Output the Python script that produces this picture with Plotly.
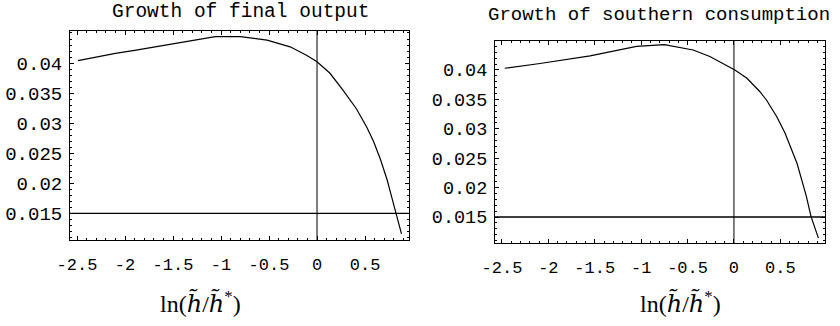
import plotly.graph_objects as go

# Growth of final output vs ln(h~/h~*)
x_output = [-2.49, -2.30, -2.10, -1.90, -1.58, -1.24, -1.06, -0.80, -0.52, -0.28,
            -0.11, 0.00, 0.135, 0.27, 0.41, 0.52, 0.59, 0.66, 0.73, 0.78, 0.83, 0.88]
y_output = [0.0404, 0.0410, 0.0416, 0.0421, 0.0430, 0.0440, 0.0444, 0.0444, 0.0438, 0.0427,
            0.0413, 0.0402, 0.0383, 0.0355, 0.0324, 0.0293, 0.0269, 0.0240, 0.0206, 0.0176,
            0.0148, 0.0116]

# Growth of southern consumption vs ln(h~/h~*)
x_cons = [-2.47, -2.09, -1.55, -1.05, -0.75, -0.44, -0.26, -0.115, 0.01, 0.14, 0.28,
          0.35, 0.46, 0.55, 0.62, 0.68, 0.73, 0.78, 0.83, 0.87, 0.91]
y_cons = [0.0403, 0.0411, 0.0424, 0.0440, 0.0443, 0.0434, 0.0423, 0.0411, 0.0400, 0.0386,
          0.0363, 0.0349, 0.0321, 0.0293, 0.0266, 0.0241, 0.0213, 0.0185, 0.0151, 0.0134,
          0.0114]

x_tick_vals = [-2.5, -2, -1.5, -1, -0.5, 0, 0.5]
x_tick_text = ["-2.5", "-2", "-1.5", "-1", "-0.5", "0", "0.5"]
y_tick_vals = [0.015, 0.02, 0.025, 0.03, 0.035, 0.04]
y_tick_text = ["0.015", "0.02", "0.025", "0.03", "0.035", "0.04"]

titles = ["Growth of final output", "Growth of southern consumption"]
H_TILDE = "<span style='font-family:DejaVu Serif'><i>h̃</i></span>"
x_label = "ln(" + H_TILDE + "/" + H_TILDE + "<sup>*</sup>)"
ref_x = 0.0
ref_y = 0.015

W, H = 840, 326
MONO = "Liberation Mono, Courier New, monospace"
SERIF = "Liberation Serif, Times New Roman, serif"

fig = go.Figure()
fig.add_trace(go.Scatter(x=x_output, y=y_output, mode="lines",
                         line=dict(color="black", width=1.2), xaxis="x", yaxis="y",
                         showlegend=False, hoverinfo="skip"))
fig.add_trace(go.Scatter(x=x_cons, y=y_cons, mode="lines",
                         line=dict(color="black", width=1.2), xaxis="x2", yaxis="y2",
                         showlegend=False, hoverinfo="skip"))


def xaxis(domain, rng, anchor):
    return dict(domain=domain, range=rng, anchor=anchor, automargin=False,
                tickmode="array", tickvals=x_tick_vals, ticktext=x_tick_text,
                ticks="inside", ticklen=4, tickcolor="black", tickwidth=1,
                minor=dict(dtick=0.1, ticks="inside", ticklen=2, tickcolor="black"),
                showline=True, linecolor="black", linewidth=1, mirror="ticks",
                showgrid=False, zeroline=False, ticklabelstandoff=9,
                tickfont=dict(family=MONO, size=17, color="black"))


def yaxis(domain, rng, anchor, size):
    return dict(domain=domain, range=rng, anchor=anchor, automargin=False,
                tickmode="array", tickvals=y_tick_vals, ticktext=y_tick_text,
                ticks="inside", ticklen=4, tickcolor="black", tickwidth=1,
                minor=dict(dtick=0.001, ticks="inside", ticklen=2, tickcolor="black"),
                showline=True, linecolor="black", linewidth=1, mirror="ticks",
                showgrid=False, zeroline=False, ticklabelstandoff=3,
                tickfont=dict(family=MONO, size=size, color="black"))


fig.update_layout(
    width=W, height=H,
    margin=dict(l=0, r=0, t=0, b=0, autoexpand=False),
    paper_bgcolor="white", plot_bgcolor="white",
    xaxis=xaxis([70 / W, 409 / W], [-2.573, 0.958], "y"),
    yaxis=yaxis([1 - 240 / H, 1 - 31 / H], [0.01058, 0.04533], "x", 19),
    xaxis2=xaxis([495 / W, 825 / W], [-2.575, 0.981], "y2"),
    yaxis2=yaxis([1 - 243 / H, 1 - 41 / H], [0.01058, 0.04493], "x2", 18.5),
)

# Reference lines at x = 0 and y = 0.015 in each panel
for xr, yr in (("x", "y"), ("x2", "y2")):
    fig.add_shape(type="line", xref=xr, yref=yr + " domain", x0=ref_x, x1=ref_x, y0=0, y1=1,
                  line=dict(color="black", width=1))
    fig.add_shape(type="line", xref=xr + " domain", yref=yr, x0=0, x1=1, y0=ref_y, y1=ref_y,
                  line=dict(color="black", width=1.3))

# Panel titles and axis labels
for text, cx, cy, size in ((titles[0], 240, 12, 19.5), (titles[1], 659, 15, 19)):
    fig.add_annotation(text=text, xref="paper", yref="paper", x=cx / W, y=1 - cy / H,
                       xanchor="center", yanchor="middle", showarrow=False,
                       font=dict(family=MONO, size=size, color="black"))
for cx in (200, 680):
    fig.add_annotation(text=x_label, xref="paper", yref="paper", x=cx / W, y=1 - 302 / H,
                       xanchor="center", yanchor="middle", showarrow=False,
                       font=dict(family=SERIF, size=24, color="black"))

fig.write_html("out.html")
